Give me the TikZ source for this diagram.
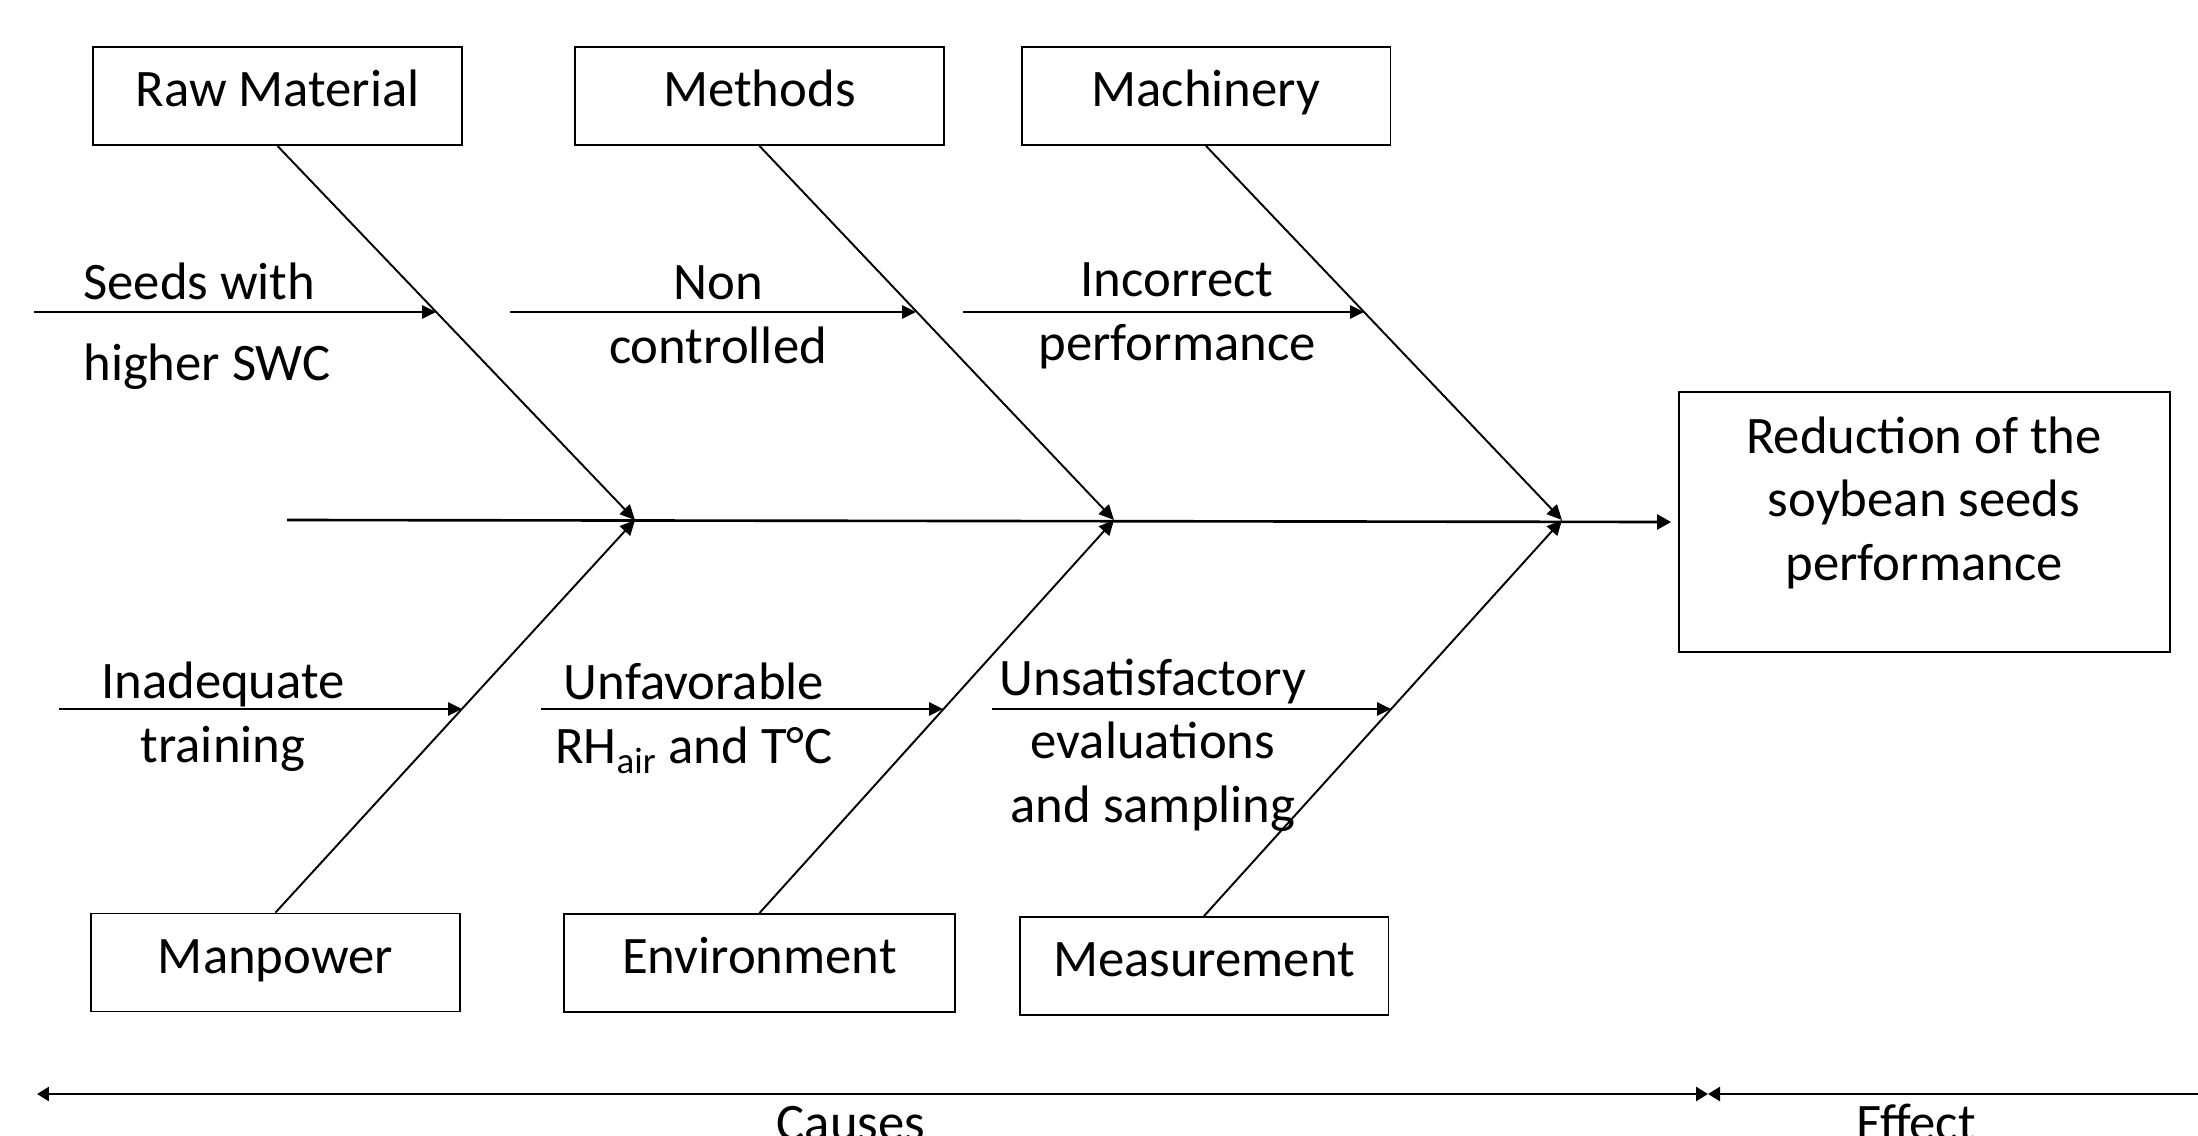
\documentclass[tikz,border=0pt]{standalone}
\usepackage{fontspec}
\setmainfont{Carlito}
\usetikzlibrary{arrows.meta}
\begin{document}
\begin{tikzpicture}[x=0.02cm,y=-0.02cm,
  every node/.style={font=\fontsize{30}{36}\selectfont},
  catbox/.style={draw, line width=1.1pt, minimum width=7.38cm, minimum height=1.96cm, inner sep=0pt, text height=19pt, text depth=6.6pt},
  bone/.style={line width=1.1pt, -{Triangle[length=0.3cm,width=0.28cm]}},
  subarrow/.style={line width=1.5pt, -{Triangle[length=0.28cm,width=0.26cm]}},
  spine/.style={line width=1.5pt, -{Triangle[length=0.28cm,width=0.3cm]}},
  scale arrow/.style={line width=1.5pt},
  lbl/.style={align=center, inner sep=0pt, anchor=base},
]
\useasboundingbox (0,0) rectangle (2198,1136);
% category boxes
\node[catbox] (rm) at (277.5,96) {Raw Material};
\node[catbox] (meth) at (759.5,96) {Methods};
\node[catbox] (mach) at (1206,96) {Machinery};
\node[catbox] (man) at (275.5,962.5) {Manpower};
\node[catbox, minimum width=7.82cm] (env) at (759.5,963) {Environment};
\node[catbox] (meas) at (1204,966) {Measurement};
% effect box
\node[draw, line width=1.1pt, minimum width=9.82cm, minimum height=5.2cm] (effect) at (1924.5,522) {};
\node[lbl] (efftext) at (1924,580) {Reduction of the\\soybean seeds\\performance};
% spine
\coordinate (J1) at (635,520);
\coordinate (J2) at (1114,520);
\coordinate (J3) at (1562,520);
\coordinate (sp) at (287,520);
\draw[spine] (sp) -- ([xshift=-0.14cm]effect.west);
% bones
\draw[bone] (rm.south) -- (J1);
\draw[bone] (meth.south) -- (J2);
\draw[bone] (mach.south) -- (J3);
\draw[bone] (man.north) -- (J1);
\draw[bone] (env.north) -- (J2);
\draw[bone] (meas.north) -- (J3);
% sub-cause arrows
\coordinate (a1) at (34,312);  \coordinate (b1) at (436,312);
\coordinate (a2) at (510,312); \coordinate (b2) at (916,312);
\coordinate (a3) at (963,312); \coordinate (b3) at (1364,312);
\coordinate (a4) at (59,709);  \coordinate (b4) at (462,709);
\coordinate (a5) at (541,709); \coordinate (b5) at (943,709);
\coordinate (a6) at (992,709); \coordinate (b6) at (1391,709);
\draw[subarrow] (a1) -- (b1);
\draw[subarrow] (a2) -- (b2);
\draw[subarrow] (a3) -- (b3);
\draw[subarrow] (a4) -- (b4);
\draw[subarrow] (a5) -- (b5);
\draw[subarrow] (a6) -- (b6);
% labels (anchor = baseline of last line)
\node[lbl, align=left, anchor=base west] (l1) at (83,380) {Seeds with\\[9.6pt]higher SWC};
\node[lbl] (l2) at (718,363) {Non\\controlled};
\node[lbl] (l3) at (1177,360) {Incorrect\\performance};
\node[lbl] (l4) at (223,762) {Inadequate\\training};
\node[lbl] (l5) at (694,763) {Unfavorable\\RH\textsubscript{air} and T°C};
\node[lbl] (l6) at (1153,822) {Unsatisfactory\\evaluations\\and sampling};
% causes / effect scale
\coordinate (cl) at (37,1094);
\coordinate (cm) at (1708,1094);
\coordinate (cr) at (2198,1094);
\draw[scale arrow, {Triangle[length=0.24cm,width=0.28cm]}-{Triangle[length=0.24cm,width=0.28cm]}] (cl) -- (cm);
\draw[scale arrow, {Triangle[length=0.24cm,width=0.28cm]}-] (cm) -- (cr);
\node[anchor=base] (causes) at (851,1140) {Causes};
\node[anchor=base] (efflbl) at (1916,1140) {Effect};
\end{tikzpicture}
\end{document}
